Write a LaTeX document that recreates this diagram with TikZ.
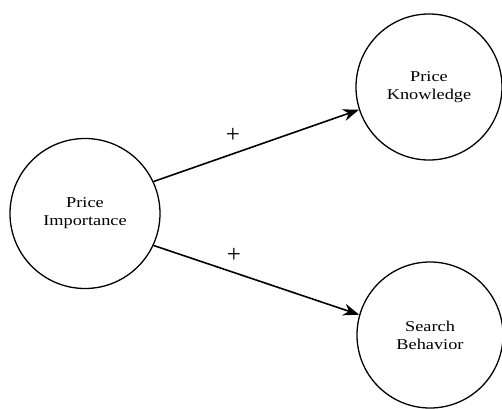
\documentclass[tikz,border=0pt]{standalone}
\usepackage{fontspec}
\setmainfont{Liberation Serif}
\newfontfamily\labfont[FakeStretch=1.22]{Liberation Serif}
\usetikzlibrary{arrows.meta}
\begin{document}
\begin{tikzpicture}[x=1pt,y=1pt,
 concept/.style={circle,draw,line width=1.3pt,inner sep=0pt,align=center,font=\labfont\fontsize{15}{18}\selectfont},
 link/.style={line width=1.6pt,-{Stealth[length=16pt,width=12pt]}},
 sign/.style={inner sep=0pt,font=\fontsize{25}{25}\selectfont}]
\useasboundingbox (0,0) rectangle (502,408);
\node[concept,minimum size=150pt] (pi) at (85,194.5) {Price\\Importance};
\node[concept,minimum size=146pt] (pk) at (429,321) {Price\\Knowledge};
\node[concept,minimum size=146pt] (sb) at (430,73) {Search\\Behavior};
\draw[link] (pi.25) -- (pk.198);
\draw[link] (pi.-25.6) -- (sb.164.4);
\node[sign] (p1) at (233,273) {+};
\node[sign] (p2) at (234,153) {+};
\end{tikzpicture}
\end{document}
